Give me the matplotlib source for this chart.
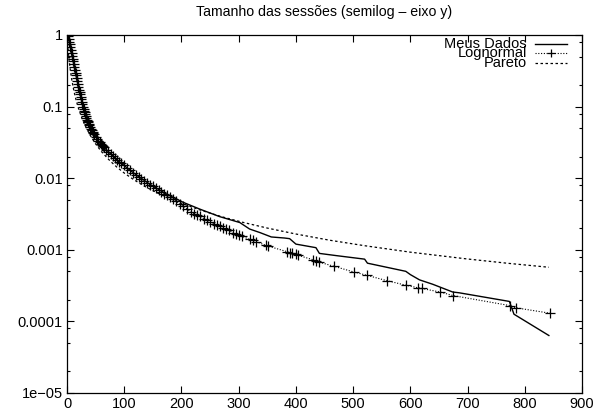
import matplotlib
matplotlib.use("Agg")
import matplotlib.pyplot as plt
from matplotlib.ticker import FixedLocator, NullFormatter

plt.rcParams['font.family'] = ['Liberation Sans', 'DejaVu Sans']

# observed session sizes (empirical CCDF)
dados_x = [1, 4, 8, 14, 20, 28, 40, 57, 87, 116, 145, 174, 203, 232, 267, 302, 319,
           337, 357, 380, 389, 400, 435, 441, 470, 520, 525, 592, 600, 616, 639,
           674, 685, 773, 781, 842]
dados_y = [1.0, 0.93, 0.56, 0.32, 0.19, 0.1, 0.053, 0.031, 0.018, 0.0119, 0.0082,
           0.006, 0.0046, 0.0037, 0.0029, 0.0024, 0.00195, 0.00174, 0.00151,
           0.00146, 0.00143, 0.0012, 0.00107, 0.00089, 0.00083, 0.00074, 0.00065,
           0.0005, 0.00045, 0.00038, 0.00033, 0.000257, 0.000251, 0.00019,
           0.000126, 0.0000635]

# lognormal fit evaluated at the data points
logn_x = [1, 2, 3, 4, 5, 6, 7, 8, 9, 10, 11, 12, 13, 14, 15, 16, 17, 18, 19, 20,
          21, 22, 23, 24, 25, 26, 27, 28, 29, 30, 31, 32, 33, 34, 35, 36, 37, 38,
          39, 40, 42, 43, 45, 46, 48, 50, 53, 55, 57, 59, 61, 63, 65, 68, 72, 76,
          80, 84, 87, 91, 95, 100, 105, 110, 116, 120, 125, 130, 135, 140, 145,
          150, 155, 160, 165, 170, 174, 180, 185, 190, 197, 203, 210, 216, 222,
          227, 232, 240, 245, 250, 257, 262, 267, 272, 278, 283, 290, 295, 300,
          305, 319, 325, 330, 348, 352, 385, 389, 394, 400, 403, 429, 435, 441,
          466, 501, 524, 559, 592, 613, 620, 652, 675, 774, 784, 844]
logn_y = [0.99, 0.955, 0.89, 0.81, 0.74, 0.676, 0.617, 0.556, 0.51, 0.468, 0.428,
          0.389, 0.355, 0.324, 0.298, 0.275, 0.252, 0.229, 0.209, 0.19, 0.173,
          0.158, 0.148, 0.138, 0.127, 0.117, 0.108, 0.1, 0.094, 0.088, 0.083,
          0.079, 0.074, 0.07, 0.066, 0.063, 0.06, 0.057, 0.055, 0.0525, 0.049,
          0.047, 0.0447, 0.043, 0.041, 0.038, 0.035, 0.033, 0.0316, 0.0305,
          0.0295, 0.028, 0.0269, 0.0251, 0.0234, 0.0219, 0.0204, 0.019, 0.0182,
          0.0171, 0.0162, 0.0151, 0.0138, 0.0129, 0.0117, 0.0112, 0.0105, 0.0098,
          0.0091, 0.0086, 0.0081, 0.0077, 0.0072, 0.0068, 0.0065, 0.0061, 0.0059,
          0.0055, 0.0051, 0.0048, 0.0044, 0.0041, 0.0037, 0.0034, 0.0032, 0.0031,
          0.00295, 0.0027, 0.0026, 0.00245, 0.0023, 0.0022, 0.00214, 0.00203,
          0.00195, 0.00186, 0.00174, 0.00166, 0.00159, 0.00155, 0.0014, 0.00135,
          0.0013, 0.00115, 0.00112, 0.00094, 0.00091, 0.00089, 0.00086, 0.00084,
          0.00073, 0.00069, 0.00067, 0.00059, 0.00049, 0.00044, 0.00037, 0.00032,
          0.000295, 0.000288, 0.000257, 0.000229, 0.000166, 0.000155, 0.00013]

# pareto fit
par_x = [1, 3, 5, 8, 12, 16, 20, 25, 30, 40, 50, 60, 75, 87, 100, 116, 135, 155,
         174, 200, 232, 270, 307, 350, 400, 459, 520, 600, 697, 770, 842]
par_y = [0.764, 0.5, 0.361, 0.245, 0.166, 0.122, 0.0947, 0.0726, 0.058, 0.0403,
         0.0301, 0.0236, 0.0175, 0.0143, 0.0118, 0.0096, 0.00775, 0.00638,
         0.00543, 0.00446, 0.00361, 0.0029, 0.00242, 0.00201, 0.00166, 0.00136,
         0.00114, 0.000926, 0.000748, 0.000648, 0.00057]

fig = plt.figure(figsize=(6.01, 4.17), dpi=100)
ax = fig.add_axes([0.1115, 0.0576, 0.857, 0.8585])

ax.plot(dados_x, dados_y, color="black", linewidth=1.0)
ax.plot(logn_x, logn_y, color="black", linewidth=0.8, linestyle=(0, (1, 1.5)),
        marker="+", markersize=6.5, markeredgewidth=0.9)
ax.plot(par_x, par_y, color="black", linewidth=0.9, linestyle=(0, (2, 2)))

ax.set_yscale("log")
ax.set_xlim(0, 900)
ax.set_ylim(1e-5, 1)
ax.set_xticks(range(0, 1000, 100))
ax.set_yticks([1, 0.1, 0.01, 0.001, 0.0001, 1e-5])
ax.set_yticklabels(["1", "0.1", "0.01", "0.001", "0.0001", "1e\u221205"])
minors = [m * 10.0**e for e in range(-5, 0) for m in (2, 5, 8)]
ax.yaxis.set_minor_locator(FixedLocator(minors))
ax.yaxis.set_minor_formatter(NullFormatter())
ax.tick_params(which="both", direction="in", top=True, right=True, labelsize=10.5)
ax.tick_params(which="major", length=5, width=0.8, pad=3)
ax.tick_params(which="minor", length=2.5, width=0.8)
for s in ax.spines.values():
    s.set_linewidth(0.9)

ax.set_title("Tamanho das sessões (semilog – eixo y)", fontsize=10.2, pad=14)

# legend drawn by hand: right-aligned labels, samples on the right
labels = ["Meus Dados", "Lognormal", "Pareto"]
styles = [dict(linestyle="-", linewidth=1.0),
          dict(linestyle=(0, (1, 1.5)), linewidth=0.8),
          dict(linestyle=(0, (2, 2)), linewidth=0.9)]
for i, (lab, st) in enumerate(zip(labels, styles)):
    yy = 0.975 - i * 0.026
    ax.text(0.893, yy, lab, transform=ax.transAxes, ha="right", va="center",
            fontsize=10.5)
    ax.plot([0.909, 0.971], [yy, yy], transform=ax.transAxes, color="black",
            clip_on=False, **st)
ax.plot([0.94], [0.949], transform=ax.transAxes, color="black", marker="+",
        markersize=6, markeredgewidth=0.9, clip_on=False)

fig.savefig("out.png", dpi=100)
